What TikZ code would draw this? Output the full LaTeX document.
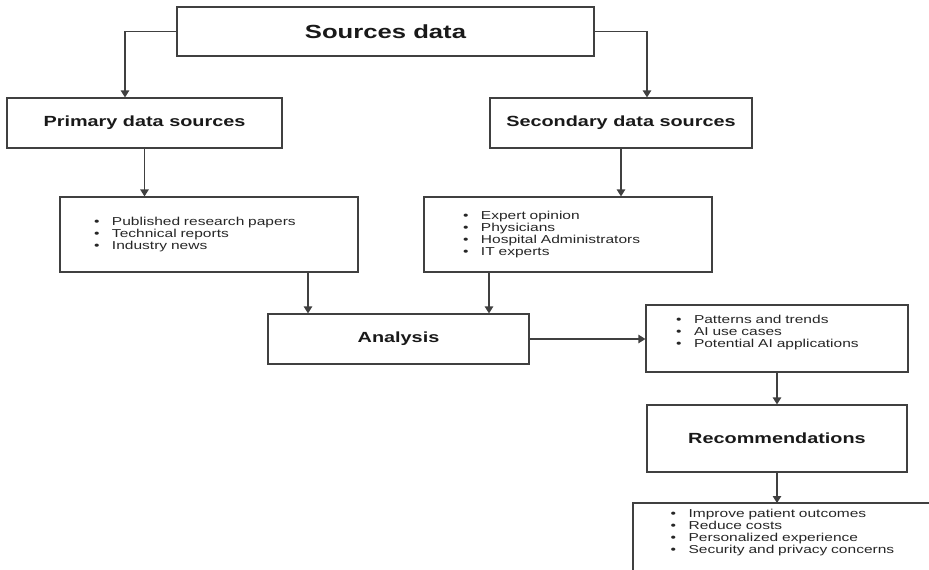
\documentclass[tikz,border=0pt]{standalone}
\usepackage{fontspec}
\setmainfont{Liberation Sans}[FakeStretch=1.35]
\usetikzlibrary{arrows.meta, positioning}
\tikzset{
  % box styles
  titlebox/.style={rectangle, draw=black!75, line width=1.2pt, text=black!90, font=\fontsize{19}{22}\selectfont\bfseries, minimum width=417pt, minimum height=49pt, inner sep=0pt},
  headbox/.style={rectangle, draw=black!75, line width=1.2pt, text=black!90, font=\fontsize{14.7}{17}\selectfont\bfseries, inner sep=0pt},
  listbox/.style={rectangle, draw=black!75, line width=1.2pt, text=black!85, font=\fontsize{11.5}{12}\selectfont, align=left, inner ysep=0pt},
  % connector style
  arrow/.style={-{Triangle[length=7pt, width=8.5pt]}, line width=1.2pt, draw=black!75},
}
\newcommand{\itm}{\makebox[18pt][l]{\textbullet}}

\begin{document}
\begin{tikzpicture}[x=1pt, y=-1pt]
    \useasboundingbox (0,0) rectangle (929,570);
    \clip (0,0) rectangle (929,570);

    % Top
    \node[titlebox] (src) at (385.5,31.5) {Sources data};

    % Two kinds of sources
    \node[headbox, minimum width=275pt, minimum height=50pt] (prim) at (144.5,123) {Primary data sources};
    \node[headbox, minimum width=262pt, minimum height=50pt] (sec) at (621,123) {Secondary data sources};

    \node[listbox, inner xsep=34pt, text width=230pt, minimum height=75pt] (primlist) at (209,234.5) {\itm Published research papers\\ \itm Technical reports\\ \itm Industry news};
    \node[listbox, inner xsep=39pt, text width=210pt, minimum height=75pt] (seclist) at (568,234.5) {\itm Expert opinion\\ \itm Physicians\\ \itm Hospital Administrators\\ \itm IT experts};

    % Analysis and results
    \node[headbox, minimum width=261pt, minimum height=50pt] (ana) at (398.5,339) {Analysis};
    \node[listbox, inner xsep=30pt, text width=202pt, minimum height=67pt] (pat) at (777,338.5) {\itm Patterns and trends\\ \itm AI use cases\\ \itm Potential AI applications\rule[-15pt]{0pt}{0pt}};

    \node[headbox, minimum width=260pt, minimum height=67pt] (rec) at (777,438.5) {Recommendations};
    \node[listbox, draw=none, anchor=north west, inner xsep=37pt, inner ysep=6pt, text width=260pt] (outc) at (633,503) {\itm Improve patient outcomes\\ \itm Reduce costs\\ \itm Personalized experience\\ \itm Security and privacy concerns};
    \draw[line width=1.2pt, draw=black!75] (outc.north west) rectangle ++(340,100);

    % Arrows
    \draw[arrow] (src.west) -| ([xshift=-19.5pt]prim.north);
    \draw[arrow] (src.east) -| ([xshift=26pt]sec.north);
    \draw[arrow] (prim.south) -- (prim.south |- primlist.north);
    \draw[arrow] (sec.south) -- (sec.south |- seclist.north);
    \draw[arrow] ([xshift=99pt]primlist.south) -- ([xshift=99pt]primlist.south |- ana.north);
    \draw[arrow] ([xshift=-79pt]seclist.south) -- ([xshift=-79pt]seclist.south |- ana.north);
    \draw[arrow] (ana.east) -- (ana.east -| pat.west);
    \draw[arrow] (pat.south) -- (rec.north);
    \draw[arrow] (rec.south) -- (rec.south |- outc.north);
\end{tikzpicture}
\end{document}
